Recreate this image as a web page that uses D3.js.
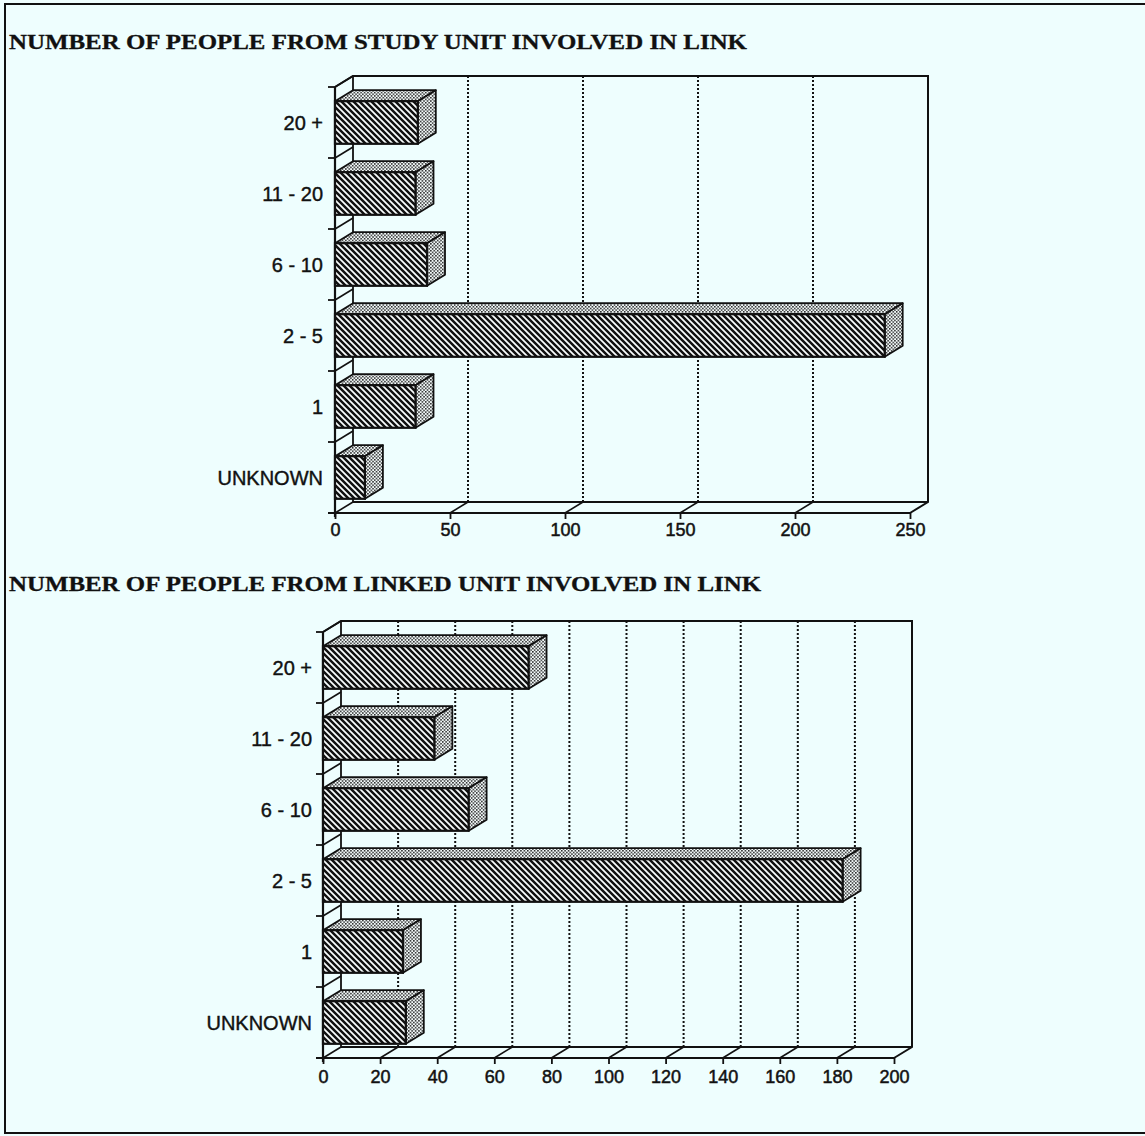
<!DOCTYPE html>
<html>
<head>
<meta charset="utf-8">
<script src="https://cdn.jsdelivr.net/npm/d3@7"></script>
<style>
  html, body { margin: 0; padding: 0; background: #eefefe; }
  svg { display: block; }
</style>
</head>
<body>
<svg id="chart" width="1145" height="1136"></svg>
<script>
// Group sizes, listed top to bottom as they appear on the axis
const categories = ["20 +", "11 - 20", "6 - 10", "2 - 5", "1", "UNKNOWN"];
// Number of links by people involved from the study unit
const studyUnitCounts = [36, 35, 40, 239, 35, 13];
// Number of links by people involved from the linked unit
const linkedUnitCounts = [72, 39, 51, 182, 28, 29];
// Value axis ticks for each panel
const studyTicks = [0, 50, 100, 150, 200, 250];
const linkedTicks = [0, 20, 40, 60, 80, 100, 120, 140, 160, 180, 200];
// Panel headings
const titles = [
  "NUMBER OF PEOPLE FROM STUDY UNIT INVOLVED IN LINK",
  "NUMBER OF PEOPLE FROM LINKED UNIT INVOLVED IN LINK"
];

const INK = "#111";
const SANS = "'Liberation Sans', Arial, sans-serif";
const svg = d3.select("#chart");

// background
svg.append("rect").attr("width", 1145).attr("height", 1136).attr("fill", "#eefefe");

// fill patterns: diagonal hatch for bar fronts, stipple for tops and sides
const defs = svg.append("defs");
const hatch = defs.append("pattern")
  .attr("id", "hatch").attr("patternUnits", "userSpaceOnUse")
  .attr("width", 6).attr("height", 6);
hatch.append("rect").attr("width", 6).attr("height", 6).attr("fill", "#fafefe");
hatch.append("path")
  .attr("d", "M-1,5 l2,2 M0,0 l6,6 M5,-1 l2,2")
  .attr("stroke", INK).attr("stroke-width", 2.5);

const dots = defs.append("pattern")
  .attr("id", "dots").attr("patternUnits", "userSpaceOnUse")
  .attr("width", 3.4).attr("height", 3.4);
dots.append("rect").attr("width", 3.4).attr("height", 3.4).attr("fill", "#f4fbfb");
dots.append("rect").attr("x", 0).attr("y", 0).attr("width", 1.5).attr("height", 1.5).attr("fill", "#222");
dots.append("rect").attr("x", 1.7).attr("y", 1.7).attr("width", 1.5).attr("height", 1.5).attr("fill", "#222");

// outer frame (left, top, bottom edges)
svg.append("path")
  .attr("d", "M1145,4 L5,4 L5,1133 L1145,1133")
  .attr("fill", "none").attr("stroke", INK).attr("stroke-width", 2);

function drawPanel(cfg) {
  const { title, titleY, values, ticks, x0, x1, top, bottom, labelGap, tickLabelY } = cfg;
  const dx = 18, dy = -11;           // depth offset of the 3D box
  const g = svg.append("g");

  g.append("text")
    .attr("x", 9).attr("y", titleY)
    .attr("font-family", "'Liberation Serif', 'DejaVu Serif', serif")
    .attr("font-weight", "bold").attr("font-size", 21)
    .attr("fill", INK).attr("stroke", INK).attr("stroke-width", 0.3)
    .attr("textLength", cfg.titleLen).attr("lengthAdjust", "spacingAndGlyphs")
    .text(title);

  const x = d3.scaleLinear().domain([ticks[0], ticks[ticks.length - 1]]).range([x0, x1]);
  const y = d3.scaleBand().domain(categories).range([top, bottom]).padding(0);
  const bw = y.bandwidth();
  const barH = bw * 0.6;

  const line = (pts) => "M" + pts.map(p => p.join(",")).join("L");

  // back wall frame
  g.append("path")
    .attr("d", line([[x0, top], [x0 + dx, top + dy], [x1 + dx, top + dy], [x1 + dx, bottom + dy], [x1, bottom]]))
    .attr("fill", "none").attr("stroke", INK).attr("stroke-width", 2);
  // back-left vertical edge and back floor line
  g.append("path")
    .attr("d", line([[x0 + dx, top + dy], [x0 + dx, bottom + dy], [x1 + dx, bottom + dy]]))
    .attr("fill", "none").attr("stroke", INK).attr("stroke-width", 1.8);

  // dotted gridlines on the back wall
  g.selectAll(".grid").data(ticks.slice(1, -1)).join("line")
    .attr("x1", d => x(d) + dx).attr("x2", d => x(d) + dx)
    .attr("y1", top + dy).attr("y2", bottom + dy)
    .attr("stroke", INK).attr("stroke-width", 2).attr("stroke-dasharray", "2,2");

  // floor slants from each value tick to the back wall
  g.selectAll(".floor").data(ticks.slice(0, -1)).join("line")
    .attr("x1", d => x(d)).attr("y1", bottom)
    .attr("x2", d => x(d) + dx).attr("y2", bottom + dy)
    .attr("stroke", INK).attr("stroke-width", 1.6);

  // category boundaries: ticks on the front axis plus slants across the side wall
  const bounds = categories.map(c => y(c)).concat([bottom]);
  g.selectAll(".ytick").data(bounds).join("line")
    .attr("x1", x0 - 7).attr("x2", x0).attr("y1", d => d).attr("y2", d => d)
    .attr("stroke", INK).attr("stroke-width", 1.8);
  g.selectAll(".yslant").data(bounds.slice(0, -1)).join("line")
    .attr("x1", x0).attr("y1", d => d)
    .attr("x2", x0 + dx).attr("y2", d => d + dy)
    .attr("stroke", INK).attr("stroke-width", 1.6);

  // front value axis with downward ticks
  const axis = d3.axisBottom(x).tickValues(ticks).tickSize(6).tickSizeOuter(0);
  const ag = g.append("g").attr("transform", `translate(0,${bottom})`).call(axis);
  ag.select(".domain").attr("stroke", INK).attr("stroke-width", 2.2)
    .attr("d", `M${x0 - 7},0H${x1}`);
  ag.selectAll(".tick line").attr("stroke", INK).attr("stroke-width", 1.8);
  ag.selectAll(".tick text")
    .attr("y", tickLabelY).attr("dy", "0.71em")
    .attr("font-family", SANS)
    .attr("font-size", 18).attr("fill", INK)
    .attr("stroke", INK).attr("stroke-width", 0.5);

  // front category axis line
  g.append("line")
    .attr("x1", x0).attr("x2", x0).attr("y1", top).attr("y2", bottom + 4)
    .attr("stroke", INK).attr("stroke-width", 2.2);

  // category labels
  g.selectAll(".clabel").data(categories).join("text")
    .attr("x", x0 - labelGap)
    .attr("y", d => y(d) + bw / 2)
    .attr("dy", "0.36em")
    .attr("text-anchor", "end")
    .attr("font-family", SANS)
    .attr("font-size", 20).attr("fill", INK)
    .attr("stroke", INK).attr("stroke-width", 0.4)
    .text(d => d);

  // 3D bars: stippled top and side, hatched front
  const bars = g.selectAll(".bar").data(categories.map((c, i) => ({ c, v: values[i] }))).join("g");
  const yt = d => y(d.c) + (bw - barH) / 2;
  const yb = d => yt(d) + barH;
  bars.append("path")
    .attr("d", d => line([[x0, yt(d)], [x0 + dx, yt(d) + dy], [x(d.v) + dx, yt(d) + dy], [x(d.v), yt(d)]]) + "Z")
    .attr("fill", "url(#dots)").attr("stroke", INK).attr("stroke-width", 1.8).attr("stroke-linejoin", "round");
  bars.append("path")
    .attr("d", d => line([[x(d.v), yt(d)], [x(d.v) + dx, yt(d) + dy], [x(d.v) + dx, yb(d) + dy], [x(d.v), yb(d)]]) + "Z")
    .attr("fill", "url(#dots)").attr("stroke", INK).attr("stroke-width", 1.8).attr("stroke-linejoin", "round");
  bars.append("rect")
    .attr("x", x0).attr("y", yt).attr("width", d => x(d.v) - x0).attr("height", barH)
    .attr("fill", "url(#hatch)").attr("stroke", INK).attr("stroke-width", 2.2);
}

drawPanel({
  title: titles[0], titleY: 49, titleLen: 738,
  values: studyUnitCounts, ticks: studyTicks,
  x0: 335, x1: 910, top: 87, bottom: 513, labelGap: 12, tickLabelY: 10
});
drawPanel({
  title: titles[1], titleY: 591, titleLen: 752,
  values: linkedUnitCounts, ticks: linkedTicks,
  x0: 323, x1: 894, top: 632, bottom: 1058, labelGap: 11, tickLabelY: 12
});
</script>
</body>
</html>
